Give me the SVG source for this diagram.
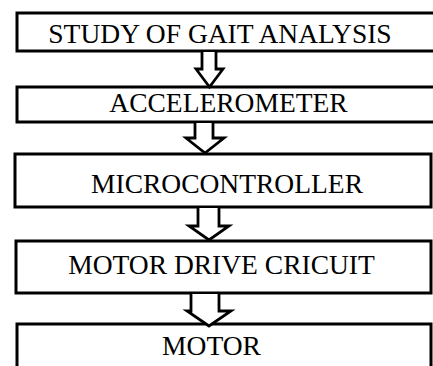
<svg xmlns="http://www.w3.org/2000/svg" width="433" height="366" viewBox="0 0 433 366">
  <style>
    .box { fill: #ffffff; stroke: #000000; stroke-width: 3; }
    .arrow { fill: #ffffff; stroke: #000000; stroke-width: 2.8; stroke-linejoin: miter; }
    .label { font-family: "Liberation Serif", "Times New Roman", serif; font-size: 27.5px; fill: #000000; text-anchor: middle; }
  </style>
  <rect width="433" height="366" fill="#ffffff"/>

  <g id="study">
    <rect class="box" x="17" y="13" width="430" height="38"/>
    <text class="label" x="220" y="43">STUDY OF GAIT ANALYSIS</text>
  </g>

  <g id="accelerometer">
    <rect class="box" x="17" y="87" width="430" height="35"/>
    <text class="label" x="228.5" y="112">ACCELEROMETER</text>
  </g>

  <g id="microcontroller">
    <rect class="box" x="15" y="154" width="416" height="53"/>
    <text class="label" x="227" y="193">MICROCONTROLLER</text>
  </g>

  <g id="motor-drive">
    <rect class="box" x="16" y="241" width="415" height="52"/>
    <text class="label" x="221.5" y="274">MOTOR DRIVE CRICUIT</text>
  </g>

  <g id="motor">
    <rect class="box" x="17" y="324" width="414" height="60"/>
    <text class="label" x="211.5" y="355">MOTOR</text>
  </g>

  <g id="connectors">
    <path class="arrow" d="M202 52 L202 69 L196 69 L209.5 87 L223 69 L216 69 L216 52"/>
    <path class="arrow" d="M195 123 L195 138 L186 138 L205 153 L224 138 L213 138 L213 123"/>
    <path class="arrow" d="M198 208 L198 226 L189 226 L209 240 L229 226 L219 226 L219 208"/>
    <path class="arrow" d="M191 294 L191 311 L187 311 L209 326 L231 311 L219 311 L219 294"/>
  </g>
</svg>
